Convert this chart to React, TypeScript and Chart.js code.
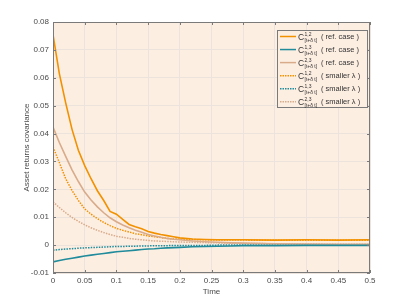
import React, { useEffect, useRef } from "react";
import { Chart, registerables } from "chart.js";

Chart.register(...registerables);

const time = [0, 0.01, 0.02, 0.03, 0.04, 0.05, 0.06, 0.07, 0.08, 0.09, 0.1, 0.11, 0.12, 0.13, 0.14, 0.15, 0.16, 0.17, 0.18, 0.19, 0.2, 0.22, 0.24, 0.26, 0.28, 0.3, 0.35, 0.4, 0.45, 0.5];

const c12Ref = [0.0755, 0.0615, 0.051, 0.0415, 0.034, 0.0285, 0.0238, 0.0195, 0.016, 0.0121, 0.0111, 0.0092, 0.0074, 0.0066, 0.0059, 0.0049, 0.0043, 0.0038, 0.0034, 0.003, 0.0026, 0.0022, 0.002, 0.0019, 0.0019, 0.0019, 0.0018, 0.0019, 0.0018, 0.0019];
const c13Ref = [-0.006, -0.0055, -0.0051, -0.0047, -0.0043, -0.0039, -0.0036, -0.0033, -0.003, -0.0027, -0.0024, -0.0022, -0.002, -0.0018, -0.0016, -0.0014, -0.0013, -0.0011, -0.001, -0.0009, -0.0008, -0.0006, -0.0005, -0.0004, -0.0003, -0.0002, -0.0002, -0.0001, -0.0001, -0.0001];
const c23Ref = [0.0423, 0.0368, 0.0318, 0.027, 0.0228, 0.019, 0.0162, 0.0137, 0.0116, 0.0098, 0.0084, 0.0072, 0.0062, 0.0053, 0.0046, 0.0038, 0.0033, 0.0028, 0.0024, 0.0021, 0.0019, 0.0015, 0.0012, 0.001, 0.0008, 0.0007, 0.0005, 0.0004, 0.0003, 0.0003];
const c12Small = [0.0352, 0.0296, 0.0238, 0.0196, 0.016, 0.013, 0.0111, 0.0095, 0.0081, 0.007, 0.006, 0.0053, 0.0047, 0.0041, 0.0037, 0.0033, 0.003, 0.0027, 0.0024, 0.0022, 0.0021, 0.002, 0.0019, 0.0018, 0.0018, 0.0018, 0.0017, 0.0017, 0.0017, 0.0017];
const c13Small = [-0.0018, -0.0016, -0.0014, -0.0013, -0.0011, -0.001, -0.0009, -0.0008, -0.0007, -0.0006, -0.0005, -0.0005, -0.0004, -0.0004, -0.0003, -0.0003, -0.0002, -0.0002, -0.0002, -0.0001, -0.0001, -0.0001, -0.0001, 0, 0, 0, 0, 0, 0, 0];
const c23Small = [0.0155, 0.0135, 0.0116, 0.0099, 0.0085, 0.0073, 0.0062, 0.0053, 0.0045, 0.0038, 0.0032, 0.0028, 0.0024, 0.0021, 0.0019, 0.0017, 0.0015, 0.0014, 0.0013, 0.0012, 0.0011, 0.001, 0.0009, 0.0008, 0.0007, 0.0006, 0.0005, 0.0004, 0.0003, 0.0003];

const superscripts = ["1,2", "1,3", "2,3", "1,2", "1,3", "2,3"];
const subscript = "[t+δ t]";
const caseLabels = ["( ref. case )", "( ref. case )", "( ref. case )", "( smaller λ )", "( smaller λ )", "( smaller λ )"];
const xTitle = "Time";
const yTitle = "Asset returns covariance";

const ORANGE = "#f29100";
const TEAL = "#1f8b9b";
const TAN = "#d8ab8a";
const colors = [ORANGE, TEAL, TAN, ORANGE, TEAL, TAN];
const seriesList = [c12Ref, c13Ref, c23Ref, c12Small, c13Small, c23Small];

const FONT = "'Liberation Sans', Arial, sans-serif";
const TEXT = "#4a4a4a";

export default function App() {
  const ref = useRef<HTMLCanvasElement>(null);
  useEffect(() => {
    if (!ref.current) return;
    const boxPlugin = {
      id: "boxPlugin",
      beforeDraw(chart: any) {
        const { ctx, chartArea: a } = chart;
        ctx.save();
        ctx.fillStyle = "#fdeee2";
        ctx.fillRect(a.left, a.top, a.right - a.left, a.bottom - a.top);
        ctx.restore();
      },
      afterDraw(chart: any) {
        const { ctx, chartArea: a } = chart;
        const xs = chart.scales.x;
        const ys = chart.scales.y;
        ctx.save();
        ctx.strokeStyle = "#7a7a7a";
        ctx.lineWidth = 1;
        ctx.strokeRect(a.left + 0.5, a.top + 0.5, a.right - a.left - 1, a.bottom - a.top - 1);
        ctx.beginPath();
        const tl = 3;
        xs.ticks.forEach((t: any) => {
          const px = Math.round(xs.getPixelForValue(t.value)) + 0.5;
          ctx.moveTo(px, a.bottom);
          ctx.lineTo(px, a.bottom - tl);
          ctx.moveTo(px, a.top);
          ctx.lineTo(px, a.top + tl);
        });
        ys.ticks.forEach((t: any) => {
          const py = Math.round(ys.getPixelForValue(t.value)) + 0.5;
          ctx.moveTo(a.left, py);
          ctx.lineTo(a.left + tl, py);
          ctx.moveTo(a.right, py);
          ctx.lineTo(a.right - tl, py);
        });
        ctx.stroke();

        // axis titles
        ctx.fillStyle = TEXT;
        ctx.font = `8px ${FONT}`;
        ctx.textAlign = "center";
        ctx.textBaseline = "middle";
        ctx.fillText(xTitle, (a.left + a.right) / 2, 292);
        ctx.save();
        ctx.translate(27, (a.top + a.bottom) / 2);
        ctx.rotate(-Math.PI / 2);
        ctx.fillText(yTitle, 0, 0);
        ctx.restore();

        // legend
        const lx = 277, ly = 30, lw = 90, lh = 77;
        ctx.fillStyle = "#fdeee2";
        ctx.fillRect(lx, ly, lw, lh);
        ctx.strokeStyle = "#7a7a7a";
        ctx.lineWidth = 1;
        ctx.strokeRect(lx + 0.5, ly + 0.5, lw, lh);
        for (let i = 0; i < 6; i++) {
          const cy = 36.5 + i * 13.05;
          ctx.beginPath();
          ctx.strokeStyle = colors[i];
          ctx.lineWidth = 1.5;
          ctx.setLineDash(i < 3 ? [] : [1.5, 1]);
          ctx.moveTo(280, cy);
          ctx.lineTo(296, cy);
          ctx.stroke();
          ctx.setLineDash([]);
          ctx.fillStyle = "#333333";
          ctx.textBaseline = "alphabetic";
          ctx.textAlign = "left";
          ctx.font = `8.5px ${FONT}`;
          ctx.fillText("C", 298, cy + 3);
          ctx.font = `5px ${FONT}`;
          ctx.fillText(superscripts[i], 304.5, cy - 1);
          ctx.fillText(subscript, 304.5, cy + 5.5);
          ctx.font = `7.5px ${FONT}`;
          ctx.fillText(caseLabels[i], 321, cy + 2.5);
        }
        ctx.restore();
      },
    };

    const chart = new Chart(ref.current, {
      type: "line",
      data: {
        datasets: seriesList.map((s, i) => ({
          label: "C" + superscripts[i] + " " + caseLabels[i],
          data: s.map((v, j) => ({ x: time[j], y: v })),
          borderColor: colors[i],
          borderWidth: i < 3 ? 1.6 : 1.5,
          borderDash: i < 3 ? [] : [1.5, 1.2],
          pointRadius: 0,
          tension: 0,
          fill: false,
        })),
      },
      options: {
        animation: false,
        responsive: false,
        maintainAspectRatio: false,
        layout: { padding: { left: 0, right: 39, top: 22, bottom: 0 } },
        plugins: { legend: { display: false }, tooltip: { enabled: false } },
        scales: {
          x: {
            type: "linear",
            min: 0,
            max: 0.5,
            ticks: {
              stepSize: 0.05,
              color: TEXT,
              font: { family: FONT, size: 8 },
              padding: 3,
              maxRotation: 0,
              autoSkip: false,
              callback: (v: any) => String(Number(Number(v).toFixed(2))),
            },
            grid: { color: "#ece3dc", drawTicks: false, lineWidth: 1 },
            border: { display: false },
            afterFit: (s: any) => { s.height = 34; },
          },
          y: {
            type: "linear",
            min: -0.01,
            max: 0.08,
            ticks: {
              stepSize: 0.01,
              color: TEXT,
              font: { family: FONT, size: 8 },
              padding: 4,
              autoSkip: false,
              callback: (v: any) => String(Number(Number(v).toFixed(2))),
            },
            grid: { color: "#ece3dc", drawTicks: false, lineWidth: 1 },
            border: { display: false },
            afterFit: (s: any) => { s.width = 53; },
          },
        },
      },
      plugins: [boxPlugin],
    });
    return () => chart.destroy();
  }, []);
  return (
    <div style={{ position: "fixed", left: 0, top: 0, width: 409, height: 307, background: "#ffffff" }}>
      <canvas ref={ref} width={409} height={307} style={{ width: 409, height: 307, display: "block" }} />
    </div>
  );
}
